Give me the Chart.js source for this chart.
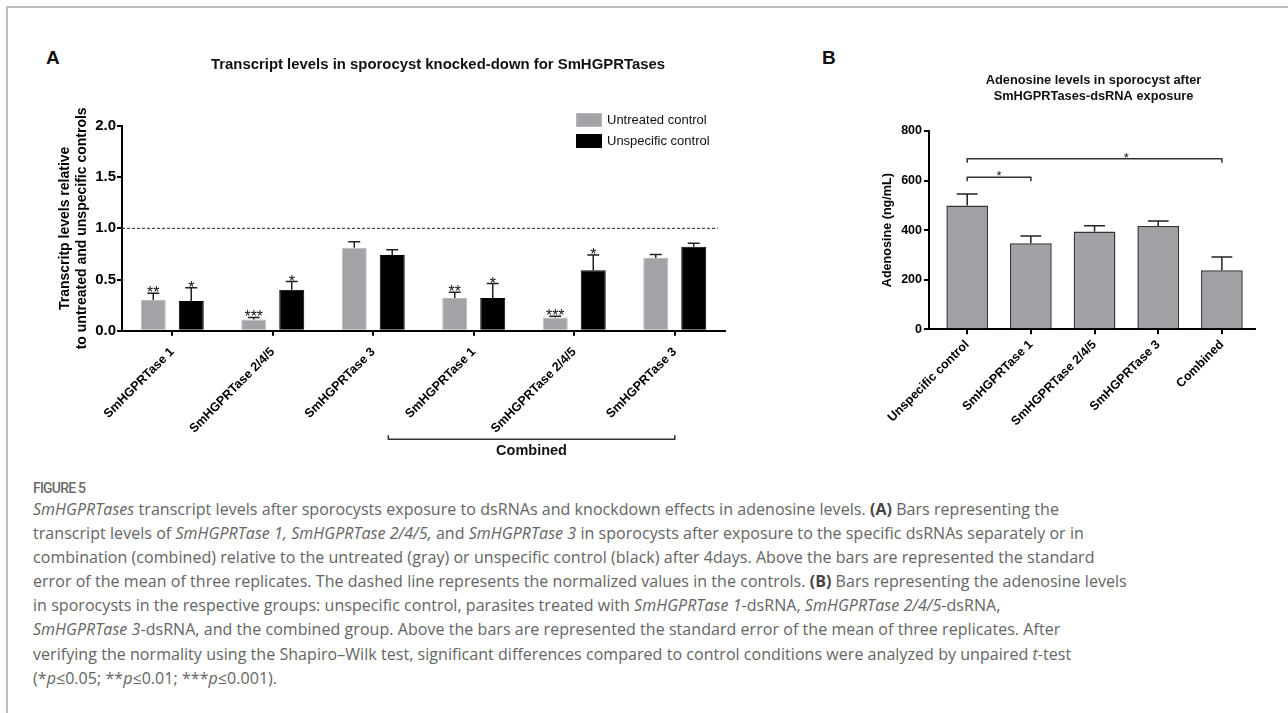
<!DOCTYPE html>
<html>
<head>
<meta charset="utf-8">
<title>Figure 5</title>
<script src="https://cdn.jsdelivr.net/npm/chart.js@4.4.0/dist/chart.umd.min.js"></script>
<style>
  html, body { margin: 0; padding: 0; background: #fff; }
  body { width: 1288px; height: 713px; position: relative; overflow: hidden; font-family: 'Liberation Sans', Arial, sans-serif; }
  #frame { position: absolute; left: 6px; top: 6px; width: 1320px; height: 740px; border-top: 2px solid #bdbdbd; border-left: 2px solid #bdbdbd; }
  .letter { position: absolute; font-weight: bold; font-size: 19px; color: #111; line-height: 22px; }
  #chartA { position: absolute; left: 0; top: 0; }
  #chartB { position: absolute; left: 860px; top: 0; }
  #legendA { position: absolute; left: 576px; top: 109px; font-size: 13px; color: #111; }
  #legendA .row { height: 21px; display: flex; align-items: center; }
  #legendA .sw { width: 26px; height: 14px; margin-right: 5px; box-sizing: border-box; }
  #figlabel { position: absolute; left: 33px; top: 478px; font-family: Roboto, sans-serif; font-weight: 500; font-size: 14px; letter-spacing: -0.8px; line-height: 20px; color: #6a6a6a; }
  #caption { position: absolute; left: 33px; top: 497px; font-family: 'Open Sans', sans-serif; font-size: 16px; letter-spacing: 0.05px; line-height: 24.1px; color: #646464; white-space: nowrap; }
  #caption b { color: #444; }
</style>
</head>
<body>
<div id="frame"></div>
<div class="letter" style="left:46px; top:47px;">A</div>
<div class="letter" style="left:822px; top:47px;">B</div>
<canvas id="chartA" width="876" height="470"></canvas>
<canvas id="chartB" width="467" height="470"></canvas>
<div id="legendA"></div>
<div id="figlabel">FIGURE 5</div>
<div id="caption">
<i>SmHGPRTases</i> transcript levels after sporocysts exposure to dsRNAs and knockdown effects in adenosine levels. <b>(A)</b> Bars representing the<br>
transcript levels of <i>SmHGPRTase 1, SmHGPRTase 2/4/5,</i> and <i>SmHGPRTase 3</i> in sporocysts after exposure to the specific dsRNAs separately or in<br>
combination (combined) relative to the untreated (gray) or unspecific control (black) after 4days. Above the bars are represented the standard<br>
error of the mean of three replicates. The dashed line represents the normalized values in the controls. <b>(B)</b> Bars representing the adenosine levels<br>
in sporocysts in the respective groups: unspecific control, parasites treated with <i>SmHGPRTase 1</i>-dsRNA, <i>SmHGPRTase 2/4/5</i>-dsRNA,<br>
<i>SmHGPRTase 3</i>-dsRNA, and the combined group. Above the bars are represented the standard error of the mean of three replicates. After<br>
verifying the normality using the Shapiro&ndash;Wilk test, significant differences compared to control conditions were analyzed by unpaired <i>t</i>-test<br>
(*<i>p</i>&le;0.05; **<i>p</i>&le;0.01; ***<i>p</i>&le;0.001).
</div>
<script>
// Panel A: transcript levels relative to the controls
const genesA = ['SmHGPRTase 1', 'SmHGPRTase 2/4/5', 'SmHGPRTase 3', 'SmHGPRTase 1', 'SmHGPRTase 2/4/5', 'SmHGPRTase 3'];
const untreatedMean = [0.30, 0.11, 0.81, 0.32, 0.13, 0.71];
const untreatedSem = [0.065, 0.02, 0.06, 0.055, 0.01, 0.035];
const untreatedStars = ['**', '***', '', '**', '***', ''];
const unspecificMean = [0.29, 0.40, 0.74, 0.32, 0.59, 0.82];
const unspecificSem = [0.13, 0.08, 0.05, 0.14, 0.15, 0.035];
const unspecificStars = ['*', '*', '', '*', '*', ''];
const yTicksA = [0, 0.5, 1.0, 1.5, 2.0];
const controlLevel = 1.0;
const combinedFrom = 2.15;   // category positions spanned by the "Combined" bracket
const combinedTo = 5;

// Panel B: adenosine levels (ng/mL)
const groupsB = ['Unspecific control', 'SmHGPRTase 1', 'SmHGPRTase 2/4/5', 'SmHGPRTase 3', 'Combined'];
const adenosineMean = [500, 347, 395, 417, 238];
const adenosineSem = [46, 29, 23, 20, 54];
const yTicksB = [0, 200, 400, 600, 800];
const sigFrom = [0, 0];
const sigTo = [1, 4];
const sigLevel = [613, 688];
const sigMark = ['*', '*'];
const sigMarkAt = [0.5, 2.5];

const FONT = "'Liberation Sans', Arial, sans-serif";
Chart.defaults.font.family = FONT;
Chart.defaults.color = '#000';

// Draws SEM whiskers (upwards only) and significance stars above them
const errorBarPlugin = {
    id: 'errorBars',
    afterDatasetsDraw(chart, args, opts) {
        const ctx = chart.ctx;
        const yScale = chart.scales.y;
        chart.data.datasets.forEach((ds, di) => {
            if (!ds.sem) return;
            const meta = chart.getDatasetMeta(di);
            meta.data.forEach((bar, i) => {
                const v = meta.controller.getParsed(i).y;
                const yTop = yScale.getPixelForValue(v + ds.sem[i]);
                const half = bar.width * opts.capRatio / 2;
                ctx.save();
                ctx.strokeStyle = opts.color;
                ctx.lineWidth = opts.lineWidth;
                ctx.beginPath();
                ctx.moveTo(bar.x, bar.y);
                ctx.lineTo(bar.x, yTop);
                ctx.moveTo(bar.x - half, yTop);
                ctx.lineTo(bar.x + half, yTop);
                ctx.stroke();
                if (ds.stars && ds.stars[i]) {
                    ctx.font = opts.starSize + 'px ' + FONT;
                    ctx.fillStyle = '#111';
                    ctx.textAlign = 'center';
                    ctx.textBaseline = 'alphabetic';
                    const m = ctx.measureText('*');
                    ctx.fillText(ds.stars[i], bar.x, yTop - 1 - m.actualBoundingBoxDescent);
                }
                ctx.restore();
            });
        });
    }
};

// Dashed control line and the "Combined" bracket for panel A
const panelAPlugin = {
    id: 'panelA',
    afterDraw(chart) {
        const ctx = chart.ctx;
        const x = chart.scales.x, y = chart.scales.y;
        const area = chart.chartArea;
        ctx.save();
        const yc = y.getPixelForValue(controlLevel);
        ctx.strokeStyle = '#222';
        ctx.lineWidth = 1;
        ctx.setLineDash([3, 2]);
        ctx.beginPath();
        ctx.moveTo(area.left, yc);
        ctx.lineTo(x.getPixelForDecimal(0.988), yc);
        ctx.stroke();
        ctx.setLineDash([]);

        const x0 = x.getPixelForValue(combinedFrom), x1 = x.getPixelForValue(combinedTo);
        const yb = area.bottom + 108.6;
        ctx.strokeStyle = '#333';
        ctx.lineWidth = 1.5;
        ctx.beginPath();
        ctx.moveTo(x0, yb - 4);
        ctx.lineTo(x0, yb);
        ctx.lineTo(x1, yb);
        ctx.lineTo(x1, yb - 4);
        ctx.stroke();
        ctx.font = 'bold 14.5px ' + FONT;
        ctx.fillStyle = '#111';
        ctx.textAlign = 'center';
        ctx.textBaseline = 'middle';
        ctx.fillText('Combined', (x0 + x1) / 2, yb + 11.5);
        ctx.restore();
    }
};

// Significance brackets for panel B
const bracketPlugin = {
    id: 'brackets',
    afterDraw(chart) {
        const ctx = chart.ctx;
        const x = chart.scales.x, y = chart.scales.y;
        ctx.save();
        ctx.strokeStyle = '#333';
        ctx.lineWidth = 1.5;
        ctx.font = '13px ' + FONT;
        ctx.fillStyle = '#111';
        ctx.textAlign = 'center';
        const m = ctx.measureText('*');
        sigFrom.forEach((from, k) => {
            const x0 = x.getPixelForValue(from), x1 = x.getPixelForValue(sigTo[k]);
            const yb = y.getPixelForValue(sigLevel[k]);
            ctx.beginPath();
            ctx.moveTo(x0, yb + 4);
            ctx.lineTo(x0, yb);
            ctx.lineTo(x1, yb);
            ctx.lineTo(x1, yb + 4);
            ctx.stroke();
            ctx.fillText(sigMark[k], x.getPixelForValue(sigMarkAt[k]), yb - 1 - m.actualBoundingBoxDescent);
        });
        ctx.restore();
    }
};

function axisStyle() {
    return {
        grid: { drawOnChartArea: false, offset: false, tickLength: 5, lineWidth: 2, color: '#000' },
        border: { display: true, color: '#000', width: 2 }
    };
}

// empty right-hand axis, only reserves space so the title centres like the original
function spacerAxis(width) {
    return {
        position: 'right',
        display: true,
        grid: { display: false },
        border: { display: false },
        ticks: { display: false },
        afterFit: s => { s.width = width; }
    };
}

// Panel A chart
const axAx = axisStyle(), axAy = axisStyle();
new Chart(document.getElementById('chartA'), {
    type: 'bar',
    data: {
        labels: genesA,
        datasets: [
            { label: 'Untreated control', data: untreatedMean, sem: untreatedSem, stars: untreatedStars, yAxisID: 'y',
              backgroundColor: '#a3a3a7', borderColor: '#b8b8bb', borderWidth: 1 },
            { label: 'Unspecific control', data: unspecificMean, sem: unspecificSem, stars: unspecificStars, yAxisID: 'y',
              backgroundColor: '#000', borderColor: '#000', borderWidth: 1 }
        ]
    },
    options: {
        responsive: false,
        animation: false,
        layout: { padding: 0 },
        datasets: { bar: { categoryPercentage: 0.756, barPercentage: 0.658 } },
        plugins: {
            legend: { display: false },
            tooltip: { enabled: false },
            title: {
                display: true,
                text: 'Transcript levels in sporocyst knocked-down for SmHGPRTases',
                color: '#111',
                font: { size: 14.9, weight: 'bold' },
                padding: { top: 56, bottom: 52.1 }
            },
            errorBars: { capRatio: 0.48, color: '#222', lineWidth: 1.5, starSize: 16 }
        },
        scales: {
            x: {
                grid: axAx.grid,
                border: axAx.border,
                ticks: { autoSkip: false, maxRotation: 45, minRotation: 45, padding: 9,
                         font: { size: 12.5, weight: 'bold' } },
                afterFit: s => { s.height = 139.3; }
            },
            y: {
                min: 0,
                max: 2,
                afterBuildTicks: s => { s.ticks = yTicksA.map(v => ({ value: v })); },
                grid: axAy.grid,
                border: axAy.border,
                ticks: { padding: 1, callback: v => Number(v).toFixed(1), font: { size: 15, weight: 'bold' } },
                title: {
                    display: true,
                    text: ['Transcritp levels relative', 'to untreated and unspecific controls'],
                    font: { size: 14, weight: 'bold' },
                    padding: { top: 56.6, bottom: 0 }
                },
                afterFit: s => { s.width = 122; }
            },
            spacer: spacerAxis(151)
        }
    },
    plugins: [errorBarPlugin, panelAPlugin]
});

// HTML legend for panel A
const legendA = document.getElementById('legendA');
[['Untreated control', '#a3a3a7', '#b8b8bb'], ['Unspecific control', '#000', '#000']].forEach(([txt, fill, edge]) => {
    const row = document.createElement('div');
    row.className = 'row';
    const sw = document.createElement('div');
    sw.className = 'sw';
    sw.style.background = fill;
    sw.style.border = '1px solid ' + edge;
    const lab = document.createElement('span');
    lab.textContent = txt;
    row.appendChild(sw);
    row.appendChild(lab);
    legendA.appendChild(row);
});

// Panel B chart (linear x so the first bar sits off the y axis like the original)
const axBx = axisStyle(), axBy = axisStyle();
new Chart(document.getElementById('chartB'), {
    type: 'bar',
    data: {
        datasets: [
            { label: 'Adenosine', data: adenosineMean.map((v, i) => ({ x: i, y: v })), sem: adenosineSem, yAxisID: 'y',
              backgroundColor: '#a2a2a6', borderColor: '#333', borderWidth: 1.5 }
        ]
    },
    options: {
        responsive: false,
        animation: false,
        layout: { padding: 0 },
        datasets: { bar: { categoryPercentage: 1, barPercentage: 0.655 } },
        plugins: {
            legend: { display: false },
            tooltip: { enabled: false },
            title: {
                display: true,
                text: ['Adenosine levels in sporocyst after', 'SmHGPRTases-dsRNA exposure'],
                color: '#111',
                font: { size: 12.8, weight: 'bold' },
                padding: { top: 73, bottom: 27.3 }
            },
            errorBars: { capRatio: 0.5, color: '#222', lineWidth: 1.5, starSize: 16 }
        },
        scales: {
            x: {
                type: 'linear',
                offset: false,
                min: -0.6,
                max: 4.52,
                afterBuildTicks: s => { s.ticks = groupsB.map((_, i) => ({ value: i })); },
                grid: axBx.grid,
                border: axBx.border,
                ticks: { autoSkip: false, maxRotation: 45, minRotation: 45, padding: 3,
                         callback: v => groupsB[v], font: { size: 12.5, weight: 'bold' } },
                afterFit: s => { s.height = 140.7; }
            },
            y: {
                min: 0,
                max: 800,
                afterBuildTicks: s => { s.ticks = yTicksB.map(v => ({ value: v })); },
                grid: axBy.grid,
                border: axBy.border,
                ticks: { padding: 2, font: { size: 12.5, weight: 'bold' } },
                title: {
                    display: true,
                    text: 'Adenosine (ng/mL)',
                    font: { size: 12.6, weight: 'bold' },
                    padding: { top: 20.4, bottom: 0 }
                },
                afterFit: s => { s.width = 69; }
            },
            spacer: spacerAxis(72)
        }
    },
    plugins: [errorBarPlugin, bracketPlugin]
});
</script>
</body>
</html>
